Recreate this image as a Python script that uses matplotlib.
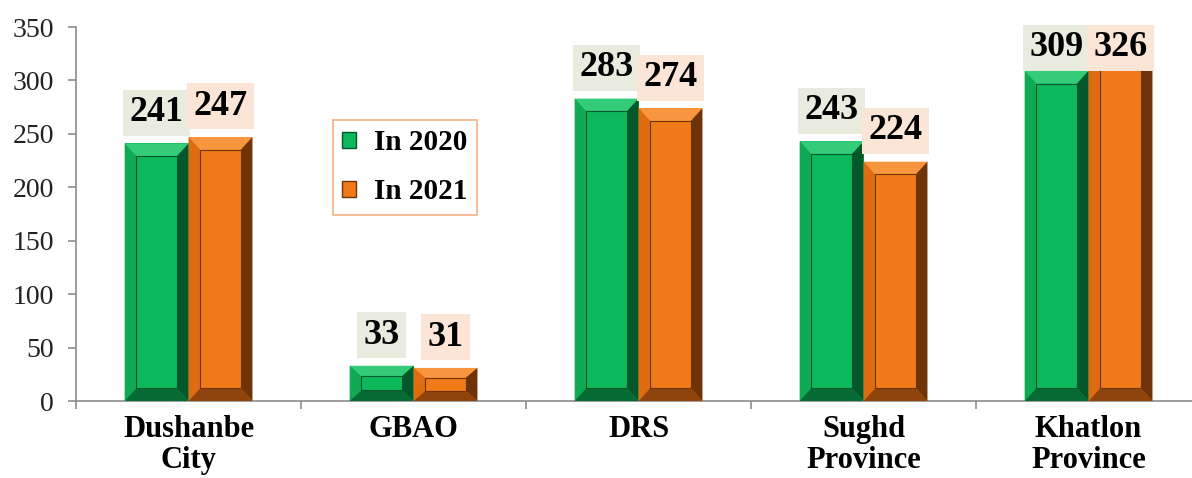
import numpy as np
import matplotlib.pyplot as plt
from matplotlib.patches import Polygon, Patch

# data
regions = ["Dushanbe\nCity", "GBAO", "DRS", "Sughd\nProvince", "Khatlon\nProvince"]
y2020 = [241, 33, 283, 243, 309]
y2021 = [247, 31, 274, 224, 326]
series_names = ["In 2020", "In 2021"]

# colours: face, top, left, right, bottom, label box
green = dict(face="#0DB85C", top="#34CC78", left="#10AA55", right="#04572A",
             bottom="#066A34", box="#E9EBDF")
orange = dict(face="#F07A17", top="#F7963F", left="#E06C12", right="#6E3308",
              bottom="#8E440C", box="#FBE5D6")

plt.rcParams['font.family'] = ['Liberation Serif', 'DejaVu Serif']

fig = plt.figure(figsize=(11.92, 4.78), dpi=100)
ax = fig.add_axes([0.0638, 0.161, 0.9438, 0.7825])

x = np.arange(len(regions))
width = 0.284
LABEL_CEIL = 302  # labels of tall bars are kept inside the frame


def bevel(ax, rect, c):
    bx, by = rect.get_x(), rect.get_y()
    w, h = rect.get_width(), rect.get_height()
    dx = 0.052
    dy = min(12, h * 0.3)
    o = [(bx, by), (bx + w, by), (bx + w, by + h), (bx, by + h)]
    i = [(bx + dx, by + dy), (bx + w - dx, by + dy),
         (bx + w - dx, by + h - dy), (bx + dx, by + h - dy)]
    parts = [
        ([o[3], o[2], i[2], i[3]], c["top"]),
        ([o[0], o[3], i[3], i[0]], c["left"]),
        ([o[1], o[2], i[2], i[1]], c["right"]),
        ([o[0], o[1], i[1], i[0]], c["bottom"]),
    ]
    for pts, col in parts:
        ax.add_patch(Polygon(pts, closed=True, facecolor=col, edgecolor="none", zorder=3))
    ax.add_patch(Polygon(i, closed=True, facecolor=c["face"], edgecolor=c["right"],
                         linewidth=0.8, zorder=4))


for vals, off, c in [(y2020, -width / 2, green), (y2021, width / 2, orange)]:
    bars = ax.bar(x + off, vals, width, color=c["face"], edgecolor="none", zorder=2)
    for rect, v in zip(bars, vals):
        bevel(ax, rect, c)
        ax.annotate(f"{v}", (rect.get_x() + rect.get_width() / 2, min(v, LABEL_CEIL)),
                    xytext=(0, 16), textcoords="offset points",
                    ha="center", va="baseline", fontsize=26, fontweight="bold",
                    color="black", zorder=6,
                    bbox=dict(boxstyle="square,pad=0.18", facecolor=c["box"],
                              edgecolor="none"))

ax.set_xlim(-0.5, len(regions) - 0.5)
ax.set_ylim(0, 350)
ax.set_yticks(np.arange(0, 351, 50))
ax.set_xticks(x)
ax.set_xticklabels(regions, fontsize=22, fontweight="bold", linespacing=1.1)
ax.set_xticks(np.arange(-0.5, len(regions), 1), minor=True)
ax.tick_params(axis="x", which="major", length=0, pad=10)
ax.tick_params(axis="x", which="minor", length=6, color="#8c8c8c", width=1.2)
ax.tick_params(axis="y", length=6, color="#8c8c8c", width=1.2, pad=10,
               labelsize=20, labelcolor="#222222")

for s in ["top", "right"]:
    ax.spines[s].set_visible(False)
for s in ["left", "bottom"]:
    ax.spines[s].set_color("#8c8c8c")
    ax.spines[s].set_linewidth(1.2)

handles = [Patch(facecolor=green["face"], edgecolor=green["right"]),
           Patch(facecolor=orange["face"], edgecolor=orange["right"])]
leg = fig.legend(handles, series_names, loc="upper left",
                 bbox_to_anchor=(0.279, 0.749), bbox_transform=fig.transFigure,
                 prop=dict(family="Liberation Serif", weight="bold", size=21),
                 handlelength=0.5, handleheight=0.5, handletextpad=0.6,
                 labelspacing=0.75, borderpad=0.32, borderaxespad=0,
                 fancybox=False, framealpha=1)
leg.get_frame().set_edgecolor("#F4B183")
leg.get_frame().set_linewidth(1.2)

fig.savefig("out.png", dpi=100)
